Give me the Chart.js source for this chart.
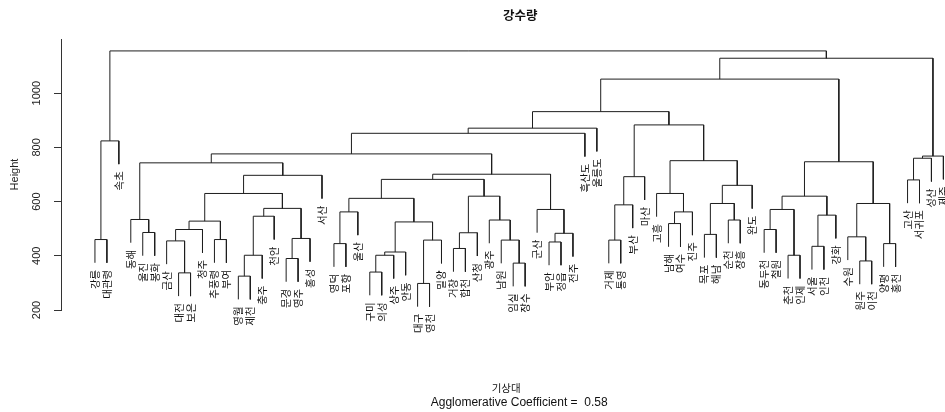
<!DOCTYPE html>
<html>
<head>
<meta charset="utf-8">
<script src="https://cdn.jsdelivr.net/npm/chart.js@4.4.1/dist/chart.umd.min.js"></script>
<style>
  html, body { margin: 0; padding: 0; background: #ffffff; }
  #wrap { width: 945px; height: 412px; position: relative; }
</style>
</head>
<body>
<div id="wrap"><canvas id="c" width="945" height="412"></canvas></div>
<script>
// Stations in dendrogram leaf order (left to right)
const stations = [
  '강릉','대관령','속초','동해','울진','봉화','금산','대전','보은','청주',
  '추풍령','부여','영월','제천','충주','천안','문경','영주','홍성','서산',
  '영덕','포항','울산','구미','의성','상주','안동','대구','영천','밀양',
  '거창','합천','산청','광주','남원','임실','장수','군산','부안','정읍',
  '전주','흑산도','울릉도','거제','통영','부산','마산','고흥','남해','여수',
  '진주','목포','해남','순천','장흥','완도','동두천','철원','춘천','인제',
  '서울','인천','강화','수원','원주','이천','양평','홍천','고산','서귀포',
  '성산','제주'
];

// Agglomeration steps: negative = leaf position (1-based), positive = earlier step (1-based)
const mergeLeft = [
  -1, 1, -5, -4, -8, -7, 6, -11, 7, -13,
  10, 11, -17, 13, 12, 9, 16, 4, -21, 19,
  -24, 21, 22, -28, 24, 23, 20, -31, 28, -36,
  -35, -34, 29, 27, -39, 35, -38, 34, 18, 39,
  40, -44, 42, 43, -49, 45, -48, -52, -54, 48,
  50, 47, 44, 41, -57, -59, 55, -61, 58, 57,
  -65, -64, -67, 62, 60, 54, -69, 67, 68, 66,
  2
];
const mergeRight = [
  -2, -3, -6, 3, -9, 5, -10, -12, 8, -14,
  -15, -16, -18, -19, 14, 15, -20, 17, -22, -23,
  -25, -26, -27, -29, -30, 25, 26, -32, -33, -37,
  30, 31, 32, 33, -40, -41, 36, 37, 38, -42,
  -43, -45, -46, -47, -50, -51, 46, -53, -55, 49,
  -56, 51, 52, 53, -58, -60, 56, -62, -63, 59,
  -66, 61, -68, 63, 64, 65, -70, -71, -72, 69,
  70
];
const mergeHeight = [
  460, 824, 486, 534, 337, 455, 497, 460, 528, 325,
  402, 546, 390, 464, 575, 630, 697, 743, 445, 562,
  340, 402, 414, 298, 458, 525, 612, 427, 485, 373,
  458, 532, 620, 682, 451, 483, 571, 701, 776, 852,
  871, 458, 588, 692, 519, 562, 630, 479, 532, 593,
  660, 751, 883, 932, 497, 402, 571, 435, 550, 620,
  381, 470, 445, 593, 747, 1052, 680, 760, 768, 1129,
  1156
];

const heightTicks = [200, 400, 600, 800, 1000];
const chartTitle = '강수량';
const xAxisLabel = '기상대';
const coefLabel = 'Agglomerative Coefficient =  0.58';
const hangFraction = 0.1;

// Build the branch segments in data units
const nLeaves = stations.length;
const hang = hangFraction * (Math.max(...mergeHeight) - Math.min(...mergeHeight));
const nodeX = [];
const leafTip = [];
const segments = [];
function endPoint(ref, parentH) {
  if (ref < 0) {
    leafTip[-ref] = parentH - hang;
    return { x: -ref, y: parentH - hang };
  }
  return { x: nodeX[ref - 1], y: mergeHeight[ref - 1] };
}
mergeHeight.forEach((h, i) => {
  const a = endPoint(mergeLeft[i], h);
  const b = endPoint(mergeRight[i], h);
  nodeX[i] = (a.x + b.x) / 2;
  segments.push([{ x: a.x, y: a.y }, { x: a.x, y: h }, { x: b.x, y: h }, { x: b.x, y: b.y }]);
});

// Horizontal range padded by 4% on each side
const xPad = 0.04 * (nLeaves - 1);
const xMin = 1 - xPad;
const xMax = 72.05;

const lineColor = '#1e1e1e';
const cjkFont = '"Noto Sans CJK KR", "Noto Sans", sans-serif';
const latinFont = '"Liberation Sans", Arial, sans-serif';

const textPlugin = {
  id: 'leafText',
  afterDraw(chart) {
    const { ctx } = chart;
    const xs = chart.scales.x, ys = chart.scales.y;
    ctx.save();
    ctx.fillStyle = '#111';
    // leaf labels, rotated, hanging below each leaf
    ctx.font = '10.5px ' + cjkFont;
    ctx.textAlign = 'right';
    ctx.textBaseline = 'middle';
    for (let i = 1; i <= nLeaves; i++) {
      const px = xs.getPixelForValue(i);
      const py = ys.getPixelForValue(leafTip[i]) + 7;
      ctx.save();
      ctx.translate(px, py);
      ctx.rotate(-Math.PI / 2);
      ctx.fillText(stations[i - 1], 0, 0);
      ctx.restore();
    }
    const cx = xs.getPixelForValue((1 + nLeaves) / 2);
    ctx.textAlign = 'center';
    ctx.font = 'bold 12.5px ' + cjkFont;
    ctx.fillText(chartTitle, cx + 1, 15);
    ctx.font = '10.5px ' + cjkFont;
    ctx.fillText(xAxisLabel, cx - 13, 388);
    ctx.font = '12px ' + latinFont;
    ctx.fillText(coefLabel, cx, 403);
    ctx.restore();
  }
};

new Chart(document.getElementById('c'), {
  type: 'line',
  data: {
    datasets: segments.map(seg => ({
      data: seg,
      borderColor: lineColor,
      borderWidth: 1,
      pointRadius: 0,
      fill: false,
      tension: 0
    }))
  },
  options: {
    responsive: false,
    animation: false,
    layout: { padding: { left: 0, right: 1, top: 39, bottom: 102 } },
    plugins: { legend: { display: false }, tooltip: { enabled: false }, title: { display: false } },
    scales: {
      x: { type: 'linear', display: false, min: xMin, max: xMax },
      y: {
        type: 'linear',
        min: 200,
        max: 1200,
        afterFit: s => { s.width = 61; },
        afterBuildTicks: s => { s.ticks = heightTicks.map(v => ({ value: v })); },
        border: { display: true, color: '#333', width: 1 },
        grid: { drawOnChartArea: false, drawTicks: true, tickLength: 7, color: '#333' },
        ticks: {
          minRotation: 90, maxRotation: 90, crossAlign: 'center', padding: 5,
          color: '#222', font: { family: latinFont, size: 11 },
          callback: v => String(v)
        },
        title: {
          display: true, text: 'Height', color: '#222',
          font: { family: latinFont, size: 11 }, padding: { top: 8, bottom: 0 }
        }
      }
    }
  },
  plugins: [textPlugin]
});
</script>
</body>
</html>
